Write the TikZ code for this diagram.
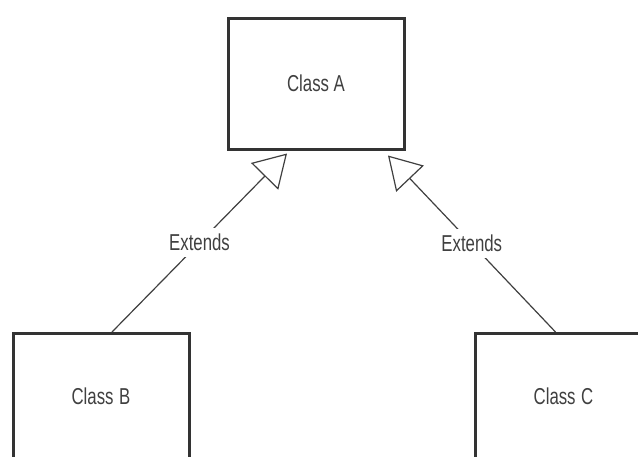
\documentclass[tikz,border=0pt]{standalone}
\usepackage{fontspec}
\setmainfont{Liberation Sans}
\usetikzlibrary{arrows.meta}
\tikzset{
  classbox/.style={draw=black!80, line width=3pt, fill=white, inner sep=0pt, font=\fontsize{23}{26}\selectfont, text=black!75},
  extline/.style={draw=black!75, line width=1.2pt, -{Triangle[open, length=32pt, width=38pt]}},
  extlabel/.style={fill=white, inner sep=6pt, font=\fontsize{23}{26}\selectfont, text=black!75}
}
\newcommand{\nar}[1]{\scalebox{0.73}[1]{#1}}
\begin{document}
\begin{tikzpicture}[x=1pt,y=-1pt]
  \useasboundingbox (0,0) rectangle (638,456);
  \clip (0,0) rectangle (638,456);
  \fill[white] (0,0) rectangle (638,456);
  \node[classbox, minimum width=176pt, minimum height=131pt] (A) at (316,83.5) {\nar{Class A}};
  \node[classbox, anchor=north, text width=176pt, align=center, text height=71pt, text depth=57pt] (B) at (101,332) {\nar{Class B}};
  \node[classbox, anchor=north, text width=177pt, align=center, text height=71pt, text depth=57pt] (C) at (563.5,332) {\nar{Class C}};
  \draw[extline] ([xshift=11pt]B.north) -- node[extlabel] (e1) {\nar{Extends}} ([xshift=-29pt,yshift=-3pt]A.south);
  \draw[extline] ([xshift=82pt]C.north west) -- node[extlabel] (e2) {\nar{Extends}} ([xshift=72pt,yshift=-5pt]A.south);
\end{tikzpicture}
\end{document}
